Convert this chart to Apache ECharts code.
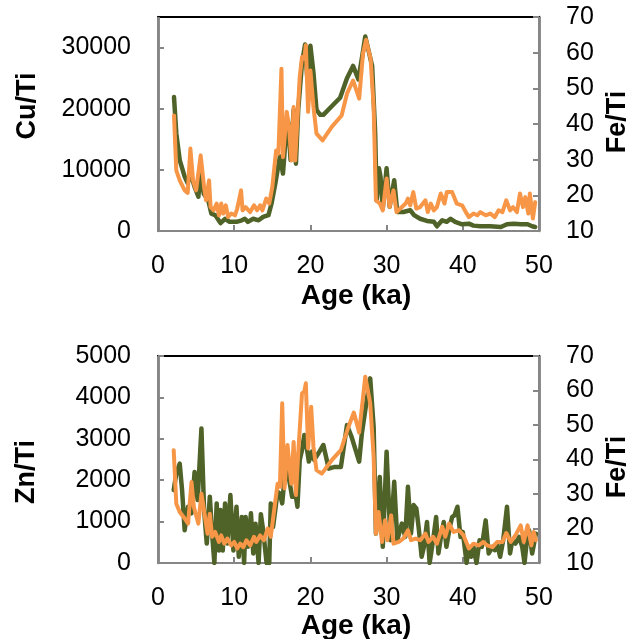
<!DOCTYPE html>
<html>
<head>
<meta charset="utf-8">
<script src="https://cdn.jsdelivr.net/npm/echarts@6/dist/echarts.min.js"></script>
<style>
  html, body { margin: 0; padding: 0; background: #ffffff; }
  #chart { width: 631px; height: 639px; }
</style>
</head>
<body>
<div id="chart"></div>
<script>
// Upper panel: Cu/Ti (left axis) and Fe/Ti (right axis) against age
const cuAge = [2.1,2.4,2.85,3.5,3.9,4.25,4.8,5.3,5.6,6.0,6.6,7.0,7.5,8.2,8.8,9.4,10.3,11.0,11.4,11.8,12.5,13.2,13.8,14.5,14.9,15.4,15.7,16.0,16.4,16.8,17.1,17.4,17.8,18.1,18.4,18.9,19.3,19.6,20.0,20.4,20.8,21.3,21.7,22.8,23.9,24.8,25.6,26.3,26.8,27.2,27.6,28.1,28.5,28.7,29.0,29.2,29.5,30.0,30.4,31.0,31.4,32.2,33.1,33.6,34.4,35.3,36.2,36.6,37.3,37.9,38.4,39.0,39.9,40.8,41.4,42.3,43.6,45.0,45.8,46.7,47.6,48.5,49.1,49.5];
const cuTi = [21900,16000,11600,8900,7800,9500,7200,5600,10000,6100,5000,2850,2600,1300,2000,1500,1500,1750,2000,1500,2000,1750,2300,2600,4500,7800,10000,12200,9400,16000,17650,11600,19800,11000,19800,27500,30500,24800,30300,25900,19800,19000,19000,20400,21800,25000,27000,24800,28600,31800,29700,27000,16000,5000,10250,8900,3700,10250,3950,8300,3100,3100,3400,2600,2000,1650,1500,770,1750,1500,2000,1500,1100,1200,880,770,770,660,1100,1200,1100,1100,770,660];

const feAgeTop = [2.1,2.4,2.85,3.5,3.9,4.25,4.6,5.0,5.6,6.05,6.3,6.7,6.9,7.3,7.7,8.0,8.3,8.55,8.9,9.2,9.6,10.1,10.4,10.9,11.1,11.5,12.1,12.6,13.0,13.4,13.7,14.2,14.6,15.0,15.5,15.8,16.2,16.4,16.9,17.2,17.5,17.8,18.0,18.6,18.9,19.2,19.4,19.7,20.0,20.4,20.8,21.6,22.8,24.1,24.8,25.6,26.4,26.9,27.3,27.9,28.3,28.6,29.1,29.5,30.0,30.4,30.9,31.3,31.8,32.5,32.8,33.1,33.5,33.9,34.4,35.1,35.4,35.8,36.2,36.6,37.1,37.6,37.9,38.6,39.2,39.9,40.4,40.8,41.4,41.9,42.3,43.0,43.6,44.2,44.7,45.2,45.7,46.2,46.6,47.1,47.5,47.9,48.2,48.6,48.8,49.2,49.5];
const feTiTop = [42.4,27.0,24.2,21.4,20.7,33.1,24.2,21.4,31.2,22.3,18.6,24.2,16.7,15.8,17.7,14.4,17.7,14.9,17.2,13.9,14.9,14.4,16.3,21.4,15.8,16.7,15.3,17.2,15.8,17.2,15.8,19.1,17.7,22.3,32.6,31.7,55.5,30.7,43.4,39.2,29.8,44.8,29.8,53.2,58.8,58.3,62.1,43.4,55.0,44.8,37.3,35.4,39.2,42.4,48.5,52.2,47.1,59.7,63.6,58.3,44.8,18.6,17.7,15.8,24.7,16.7,21.4,15.3,16.3,17.7,19.1,17.2,20.9,16.3,16.7,18.6,15.3,17.7,15.8,16.7,20.5,17.7,20.9,20.9,17.7,17.2,15.3,13.9,14.9,14.4,15.3,14.4,14.9,13.9,15.8,15.3,18.6,15.8,16.7,15.3,20.5,16.7,19.5,14.9,20.5,13.5,18.1];

// Lower panel: Zn/Ti (left axis) and Fe/Ti (right axis) against age
const znAge = [2.06,2.4,2.85,3.16,3.5,3.95,4.4,4.8,5.2,5.7,6.05,6.4,6.8,7.1,7.4,7.7,8.0,8.2,8.5,8.8,9.1,9.5,9.9,10.3,10.6,11.0,11.3,11.5,11.8,12.2,12.5,12.8,13.2,13.5,13.8,14.25,14.6,14.8,15.1,15.7,16.0,16.3,16.7,17.0,17.3,17.6,18.1,18.3,18.6,18.9,19.2,19.5,19.8,20.2,20.5,21.05,21.7,22.4,23.2,24.0,24.8,25.4,26.4,26.75,27.4,27.85,28.3,28.6,29.1,29.5,30.0,30.5,31.0,31.4,32.0,32.45,32.8,33.2,33.55,33.9,34.2,34.6,34.9,35.3,35.65,36.1,36.5,36.8,37.2,37.5,37.85,38.3,38.6,38.9,39.3,39.7,40.0,40.5,40.8,41.1,41.4,41.8,42.2,42.5,43.0,43.4,43.9,44.2,44.5,44.9,45.3,45.8,46.2,46.5,46.9,47.4,47.8,48.1,48.5,48.7,49.1,49.6];
const znTi = [1760,2160,2400,1760,790,1360,1200,2200,1520,3250,1280,470,1600,710,0,1440,300,1280,300,1440,470,1640,300,1360,150,1110,0,1110,390,1200,230,950,0,1180,790,0,0,1440,870,1720,1680,1440,2240,2240,1920,1600,1600,1360,2490,2730,3090,2810,2450,2690,2490,2650,2850,2280,2320,2320,3330,3050,2450,3130,3940,4460,3290,710,2080,390,2690,550,1960,550,950,630,1840,710,1400,1320,870,150,390,990,0,550,1110,230,710,990,390,870,1110,1150,1360,630,750,0,390,150,390,0,550,390,1030,230,390,310,470,150,550,1360,230,550,470,630,390,0,710,790,230,710];

const feAgeBot = [2.06,2.4,2.85,3.5,3.95,4.4,4.7,5.3,5.7,6.1,6.5,6.8,7.1,7.5,8.0,8.3,8.7,9.1,9.6,10.0,10.4,10.8,11.2,11.6,12.1,12.6,12.9,13.4,13.9,14.4,14.8,15.35,15.7,16.0,16.3,16.6,17.0,17.3,17.5,17.8,18.1,18.4,18.9,19.2,19.4,19.7,20.1,20.4,20.8,21.5,22.8,24.0,25.0,25.7,26.4,27.2,27.85,28.3,28.6,28.95,29.4,29.8,30.1,30.6,30.9,31.6,32.2,32.8,33.2,33.8,34.4,35.1,35.5,36.1,36.6,37.3,37.7,38.2,38.8,39.5,40.1,40.8,41.4,42.1,42.7,43.2,43.9,44.5,45.2,45.7,46.3,46.9,47.6,48.0,48.5,49.0,49.3,49.6];
const feTiBot = [42.7,27.2,24.8,22.9,21.4,33.5,26.3,21.4,30.1,24.3,18.5,24.3,17.6,19.0,16.1,18.0,15.6,17.1,15.1,16.1,14.2,15.6,14.6,16.6,15.1,17.6,16.1,18.0,16.6,20.0,17.6,27.2,33.0,32.1,56.3,31.6,44.2,36.9,33.0,45.1,29.7,41.8,59.2,59.7,62.1,43.2,55.3,43.7,36.9,35.9,39.8,42.7,49.5,53.6,47.8,64.0,56.3,40.8,18.5,24.8,16.1,22.4,16.6,23.8,15.6,16.1,17.1,19.5,16.6,17.1,16.6,18.5,16.1,17.6,15.6,20.5,17.6,21.4,19.0,19.5,18.0,14.2,15.6,15.1,16.1,15.1,14.6,16.1,16.1,18.7,16.1,18.0,20.9,16.1,20.9,15.1,19.0,16.6];

const ageTicks = { min: 0, max: 50, step: 10 };
const cuRange = { min: 0, max: 35000, step: 10000 };
const znRange = { min: 0, max: 5000, step: 1000 };
const feRange = { min: 10, max: 70, step: 10 };

const GREEN = '#4F6228';
const ORANGE = '#F79646';
const AXIS_GREY = '#868686';
const FONT = '"Liberation Sans", Arial, sans-serif';

const pairs = (xs, ys) => xs.map((x, i) => [x, ys[i]]);
const plain = v => String(v);

const chart = echarts.init(document.getElementById('chart'), null, { renderer: 'canvas' });

function bottomAxis(gridIndex) {
  return {
    type: 'value', gridIndex, position: 'bottom',
    min: ageTicks.min, max: ageTicks.max, interval: ageTicks.step,
    axisLine: { show: true, onZero: false, lineStyle: { color: AXIS_GREY, width: 2 } },
    axisTick: { show: true, inside: true, length: 6, lineStyle: { color: AXIS_GREY, width: 2 } },
    axisLabel: { color: '#000', fontSize: 25, fontFamily: FONT, margin: 23, formatter: plain },
    splitLine: { show: false }
  };
}
function topBorder(gridIndex) {
  return {
    type: 'value', gridIndex, position: 'top',
    min: ageTicks.min, max: ageTicks.max,
    axisLine: { show: true, onZero: false, lineStyle: { color: '#000', width: 2 } },
    axisTick: { show: false }, axisLabel: { show: false }, splitLine: { show: false }
  };
}
function sideAxis(gridIndex, r, position) {
  return {
    type: 'value', gridIndex, position,
    min: r.min, max: r.max, interval: r.step,
    axisLine: { show: true, onZero: false, lineStyle: { color: AXIS_GREY, width: 2.5 } },
    axisTick: { show: true, inside: true, length: 6, lineStyle: { color: AXIS_GREY, width: 2 } },
    axisLabel: { color: '#000', fontSize: 25, fontFamily: FONT, margin: 27, formatter: plain,
                 showMaxLabel: r.max % r.step === 0 },
    splitLine: { show: false }
  };
}
// side edges of each plot box
const sideEdges = {
  silent: true, symbol: ['none', 'none'], label: { show: false },
  lineStyle: { color: AXIS_GREY, width: 2.5, type: 'solid' },
  emphasis: { disabled: true },
  data: [{ xAxis: ageTicks.min }, { xAxis: ageTicks.max }]
};
function line(name, x, y, xi, yi, color, width, z, edges) {
  const s = {
    name, type: 'line', xAxisIndex: xi, yAxisIndex: yi,
    data: pairs(x, y), showSymbol: false, symbol: 'none',
    lineStyle: { color, width, join: 'round', cap: 'round' },
    z, animation: false
  };
  if (edges) s.markLine = sideEdges;
  return s;
}

function title(text, x, y, rotated, size) {
  return {
    type: 'text', x, y, rotation: rotated ? Math.PI / 2 : 0, silent: true,
    style: { text, font: 'bold ' + size + 'px ' + FONT, fill: '#000', align: 'center', verticalAlign: 'middle' }
  };
}

const frame = { show: true, borderColor: AXIS_GREY, borderWidth: 2, backgroundColor: 'transparent', outerBoundsMode: 'none' };

chart.setOption({
  animation: false,
  backgroundColor: '#ffffff',
  grid: [
    Object.assign({ left: 158, top: 17, width: 381, height: 214 }, frame),
    Object.assign({ left: 158, top: 356, width: 381, height: 207 }, frame)
  ],
  xAxis: [bottomAxis(0), topBorder(0), bottomAxis(1), topBorder(1)],
  yAxis: [sideAxis(0, cuRange, 'left'), sideAxis(0, feRange, 'right'),
          sideAxis(1, znRange, 'left'), sideAxis(1, feRange, 'right')],
  series: [
    line('Cu/Ti', cuAge, cuTi, 0, 0, GREEN, 4.5, 2, true),
    line('Fe/Ti', feAgeTop, feTiTop, 0, 1, ORANGE, 4, 3, false),
    line('Zn/Ti', znAge, znTi, 2, 2, GREEN, 4.5, 2, true),
    line('Fe/Ti', feAgeBot, feTiBot, 2, 3, ORANGE, 4, 3, false)
  ],
  graphic: [
    title('Cu/Ti', 28, 106, true, 27),
    title('Fe/Ti', 618, 122, true, 27),
    title('Age (ka)', 356, 296, false, 28),
    title('Zn/Ti', 27, 472, true, 27),
    title('Fe/Ti', 618, 467, true, 27),
    title('Age (ka)', 356, 626, false, 28)
  ]
});
</script>
</body>
</html>
